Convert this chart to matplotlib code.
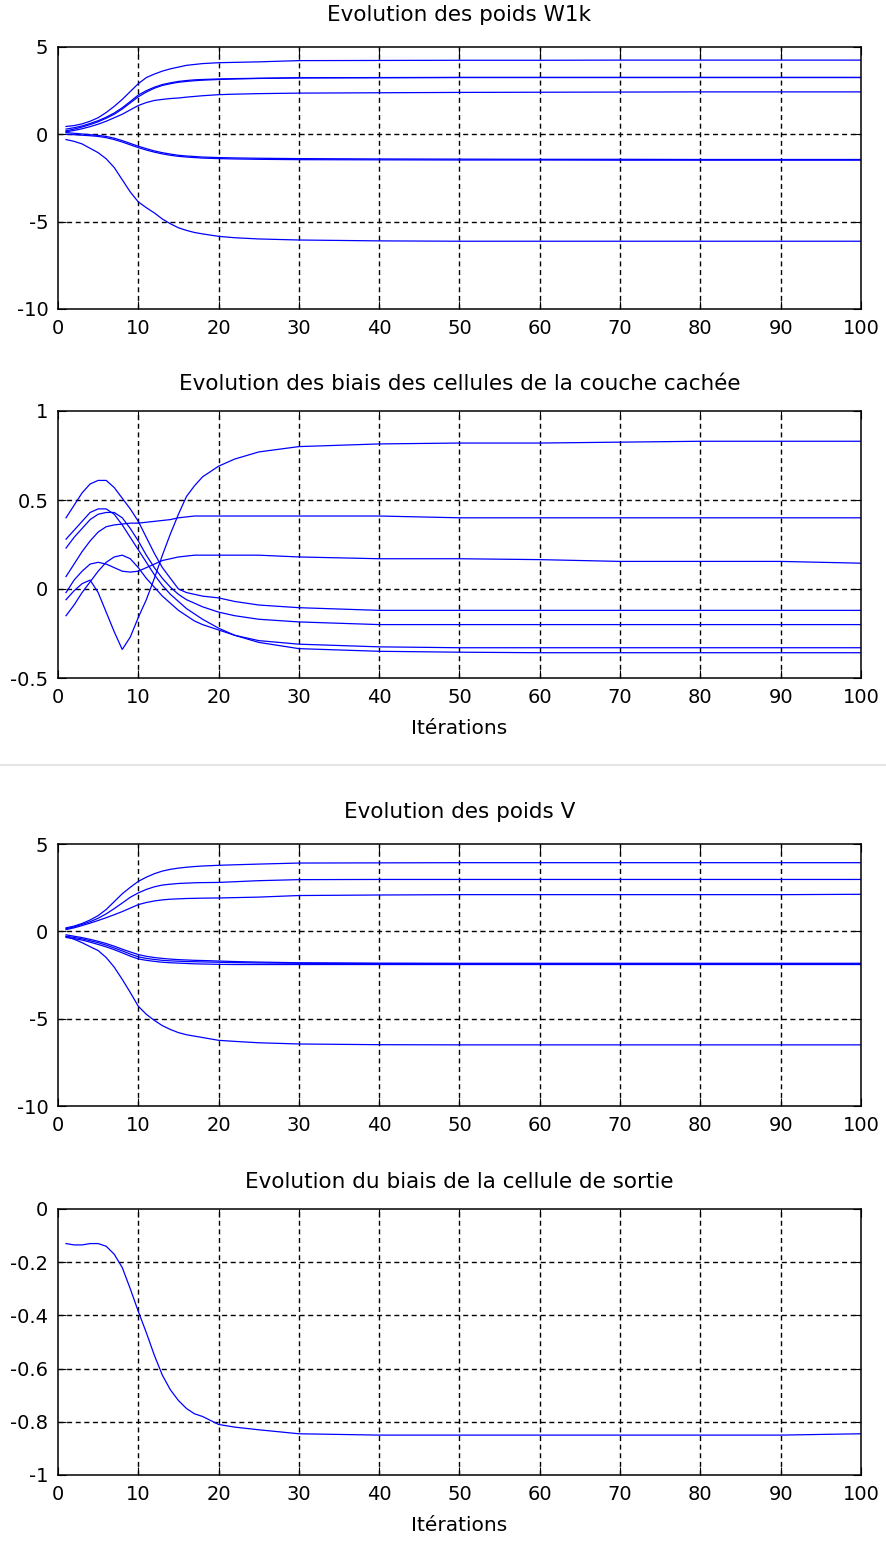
import numpy as np
import matplotlib
matplotlib.use("Agg")
import matplotlib.pyplot as plt
from matplotlib.lines import Line2D

# ---------------- data ----------------
iters = [1, 2, 3, 4, 5, 6, 7, 8, 9, 10, 11, 12, 13, 14, 15, 16, 17, 18, 20, 22, 25, 30, 40, 50, 60, 70, 80, 90, 100]

# Evolution des poids W1k
w1k_1 = [0.45, 0.5, 0.6, 0.75, 0.95, 1.25, 1.6, 2.0, 2.45, 2.9, 3.25, 3.45, 3.62, 3.75, 3.85, 3.95, 4.0, 4.05, 4.1, 4.12, 4.15, 4.22, 4.23, 4.24, 4.24, 4.25, 4.25, 4.25, 4.25]
w1k_2 = [0.3, 0.38, 0.48, 0.62, 0.78, 0.98, 1.22, 1.52, 1.88, 2.25, 2.5, 2.7, 2.85, 2.95, 3.03, 3.08, 3.12, 3.14, 3.17, 3.19, 3.21, 3.24, 3.25, 3.26, 3.26, 3.26, 3.26, 3.26, 3.26]
w1k_3 = [0.2, 0.3, 0.42, 0.56, 0.72, 0.92, 1.15, 1.45, 1.8, 2.15, 2.42, 2.64, 2.8, 2.9, 2.98, 3.03, 3.07, 3.1, 3.14, 3.17, 3.2, 3.23, 3.24, 3.25, 3.25, 3.25, 3.25, 3.25, 3.25]
w1k_4 = [0.15, 0.22, 0.32, 0.44, 0.58, 0.75, 0.95, 1.15, 1.4, 1.65, 1.82, 1.94, 2.0, 2.05, 2.08, 2.13, 2.17, 2.21, 2.27, 2.3, 2.33, 2.36, 2.38, 2.4, 2.41, 2.42, 2.43, 2.43, 2.43]
w1k_5 = [0.1, 0.06, 0.02, -0.02, -0.06, -0.12, -0.22, -0.36, -0.52, -0.68, -0.82, -0.95, -1.05, -1.13, -1.2, -1.24, -1.27, -1.3, -1.33, -1.35, -1.37, -1.39, -1.41, -1.42, -1.43, -1.43, -1.44, -1.44, -1.44]
w1k_6 = [0.0, -0.02, -0.05, -0.08, -0.12, -0.19, -0.3, -0.44, -0.6, -0.76, -0.9, -1.02, -1.12, -1.2, -1.26, -1.3, -1.33, -1.36, -1.39, -1.41, -1.43, -1.45, -1.46, -1.47, -1.47, -1.48, -1.48, -1.48, -1.48]
w1k_7 = [-0.3, -0.4, -0.55, -0.8, -1.05, -1.4, -1.9, -2.6, -3.3, -3.87, -4.2, -4.5, -4.85, -5.12, -5.35, -5.5, -5.62, -5.7, -5.84, -5.92, -5.99, -6.05, -6.1, -6.12, -6.12, -6.12, -6.12, -6.12, -6.12]

# Evolution des biais des cellules de la couche cachee
bh_1 = [0.40, 0.47, 0.54, 0.59, 0.61, 0.61, 0.57, 0.51, 0.45, 0.38, 0.29, 0.2, 0.12, 0.06, 0.0, -0.02, -0.03, -0.04, -0.05, -0.07, -0.09, -0.105, -0.12, -0.12, -0.12, -0.12, -0.12, -0.12, -0.12]
bh_2 = [0.28, 0.33, 0.38, 0.43, 0.45, 0.45, 0.42, 0.36, 0.29, 0.22, 0.15, 0.08, 0.02, -0.03, -0.07, -0.11, -0.14, -0.17, -0.22, -0.26, -0.3, -0.335, -0.35, -0.355, -0.358, -0.358, -0.358, -0.358, -0.358]
bh_3 = [0.23, 0.29, 0.34, 0.39, 0.42, 0.43, 0.43, 0.40, 0.34, 0.27, 0.19, 0.12, 0.06, 0.01, -0.03, -0.06, -0.08, -0.1, -0.13, -0.15, -0.17, -0.185, -0.2, -0.2, -0.2, -0.2, -0.2, -0.2, -0.2]
bh_4 = [0.07, 0.14, 0.21, 0.27, 0.32, 0.35, 0.36, 0.365, 0.37, 0.37, 0.375, 0.38, 0.385, 0.39, 0.4, 0.405, 0.41, 0.41, 0.41, 0.41, 0.41, 0.41, 0.41, 0.40, 0.40, 0.40, 0.40, 0.40, 0.40]
bh_5 = [-0.02, 0.05, 0.1, 0.14, 0.15, 0.14, 0.12, 0.1, 0.095, 0.1, 0.12, 0.14, 0.16, 0.17, 0.18, 0.185, 0.19, 0.19, 0.19, 0.19, 0.19, 0.18, 0.17, 0.17, 0.165, 0.155, 0.155, 0.155, 0.145]
bh_6 = [-0.15, -0.09, -0.02, 0.04, 0.1, 0.15, 0.18, 0.19, 0.17, 0.12, 0.06, 0.01, -0.04, -0.08, -0.12, -0.15, -0.18, -0.2, -0.23, -0.26, -0.29, -0.31, -0.325, -0.33, -0.33, -0.33, -0.33, -0.33, -0.33]
bh_7 = [-0.06, -0.01, 0.03, 0.05, -0.02, -0.13, -0.24, -0.34, -0.27, -0.16, -0.06, 0.06, 0.19, 0.31, 0.42, 0.52, 0.58, 0.63, 0.69, 0.73, 0.77, 0.8, 0.815, 0.82, 0.82, 0.825, 0.83, 0.83, 0.83]

# Evolution des poids V
v_1 = [0.2, 0.3, 0.45, 0.65, 0.9, 1.25, 1.7, 2.15, 2.52, 2.86, 3.1, 3.3, 3.45, 3.55, 3.62, 3.67, 3.71, 3.74, 3.78, 3.81, 3.85, 3.91, 3.92, 3.93, 3.93, 3.93, 3.93, 3.93, 3.93]
v_2 = [0.15, 0.25, 0.4, 0.55, 0.75, 1.0, 1.3, 1.62, 1.95, 2.2, 2.4, 2.55, 2.65, 2.7, 2.74, 2.76, 2.78, 2.79, 2.8, 2.84, 2.9, 2.96, 2.97, 2.97, 2.97, 2.97, 2.97, 2.97, 2.97]
v_3 = [0.1, 0.2, 0.33, 0.47, 0.62, 0.78, 0.95, 1.13, 1.33, 1.53, 1.65, 1.74, 1.8, 1.84, 1.86, 1.88, 1.89, 1.9, 1.91, 1.93, 1.96, 2.05, 2.08, 2.1, 2.1, 2.1, 2.1, 2.1, 2.12]
v_4 = [-0.2, -0.28, -0.36, -0.46, -0.57, -0.7, -0.85, -1.02, -1.18, -1.33, -1.43, -1.5, -1.55, -1.59, -1.62, -1.64, -1.66, -1.67, -1.7, -1.73, -1.76, -1.8, -1.82, -1.83, -1.83, -1.83, -1.83, -1.83, -1.83]
v_5 = [-0.28, -0.35, -0.43, -0.54, -0.65, -0.79, -0.95, -1.12, -1.3, -1.46, -1.55, -1.61, -1.66, -1.69, -1.71, -1.73, -1.74, -1.75, -1.77, -1.79, -1.81, -1.83, -1.85, -1.86, -1.86, -1.86, -1.86, -1.86, -1.86]
v_6 = [-0.35, -0.42, -0.5, -0.62, -0.75, -0.89, -1.05, -1.23, -1.42, -1.58, -1.66, -1.72, -1.77, -1.8, -1.82, -1.84, -1.86, -1.87, -1.89, -1.9, -1.9, -1.9, -1.9, -1.9, -1.9, -1.9, -1.9, -1.9, -1.9]
v_7 = [-0.3, -0.45, -0.65, -0.88, -1.1, -1.5, -2.05, -2.75, -3.5, -4.29, -4.75, -5.1, -5.4, -5.62, -5.8, -5.92, -6.0, -6.08, -6.24, -6.3, -6.38, -6.45, -6.49, -6.5, -6.5, -6.5, -6.5, -6.5, -6.5]

# Evolution du biais de la cellule de sortie
b_out = [-0.13, -0.135, -0.135, -0.13, -0.13, -0.14, -0.17, -0.22, -0.3, -0.385, -0.465, -0.55, -0.625, -0.68, -0.72, -0.75, -0.77, -0.78, -0.81, -0.82, -0.83, -0.845, -0.85, -0.85, -0.85, -0.85, -0.85, -0.85, -0.845]

titles = ["Evolution des poids W1k",
          "Evolution des biais des cellules de la couche cachée",
          "Evolution des poids V",
          "Evolution du biais de la cellule de sortie"]
xlabel_text = "Itérations"
xticks = [0, 10, 20, 30, 40, 50, 60, 70, 80, 90, 100]
yticks_list = [[-10, -5, 0, 5],
               [-0.5, 0, 0.5, 1],
               [-10, -5, 0, 5],
               [-1, -0.8, -0.6, -0.4, -0.2, 0]]
ytick_labels = [["-10", "-5", "0", "5"],
                ["-0.5", "0", "0.5", "1"],
                ["-10", "-5", "0", "5"],
                ["-1", "-0.8", "-0.6", "-0.4", "-0.2", "0"]]
panels = [[w1k_1, w1k_2, w1k_3, w1k_4, w1k_5, w1k_6, w1k_7],
          [bh_1, bh_2, bh_3, bh_4, bh_5, bh_6, bh_7],
          [v_1, v_2, v_3, v_4, v_5, v_6, v_7],
          [b_out]]

# ---------------- drawing ----------------
plt.rcParams['font.family'] = ['DejaVu Sans']
W, H = 887, 1542
fig = plt.figure(figsize=(W / 100, H / 100), dpi=100)
fig.patch.set_facecolor('white')

# axes boxes in pixels: (left, top, right, bottom)
boxes = [(58, 47, 861, 309),
         (58, 411, 861, 678),
         (58, 844, 861, 1106),
         (58, 1209, 861, 1475)]
show_xlabel = [False, True, False, True]
title_pads = [19, 15, 19, 15]

for i, (l, t, r, b) in enumerate(boxes):
    ax = fig.add_axes([l / W, (H - b) / H, (r - l) / W, (b - t) / H])
    for series in panels[i]:
        ax.plot(iters, series, color='#0000ff', lw=0.9, solid_joinstyle='miter')
    ax.set_xlim(0, 100)
    ax.set_ylim(yticks_list[i][0], yticks_list[i][-1])
    ax.set_xticks(xticks)
    ax.set_xticklabels([str(v) for v in xticks])
    ax.set_yticks(yticks_list[i])
    ax.set_yticklabels(ytick_labels[i])
    ax.grid(True, color='black', linestyle=(0, (3.6, 2.6)), linewidth=1.0)
    # grid lines lying on the frame are hidden (the frame is solid)
    xg = ax.get_xgridlines()
    xg[0].set_visible(False)
    xg[-1].set_visible(False)
    yg = ax.get_ygridlines()
    yg[0].set_visible(False)
    yg[-1].set_visible(False)
    ax.tick_params(direction='in', length=5.5, width=0.8, top=True, right=True,
                   labelsize=14, pad=7, colors='black')
    for sp in ax.spines.values():
        sp.set_linewidth(1.1)
        sp.set_color('black')
        sp.set_zorder(3)
    ax.set_title(titles[i], fontsize=15.5, pad=title_pads[i])
    if show_xlabel[i]:
        ax.set_xlabel(xlabel_text, fontsize=14.5, labelpad=9)

# thin separator between the two original figures
fig.add_artist(Line2D([0, 1], [1 - 765 / H, 1 - 765 / H], transform=fig.transFigure,
                      color='#e6e6e6', lw=1.5))

fig.savefig('out.png', dpi=100, facecolor='white')
